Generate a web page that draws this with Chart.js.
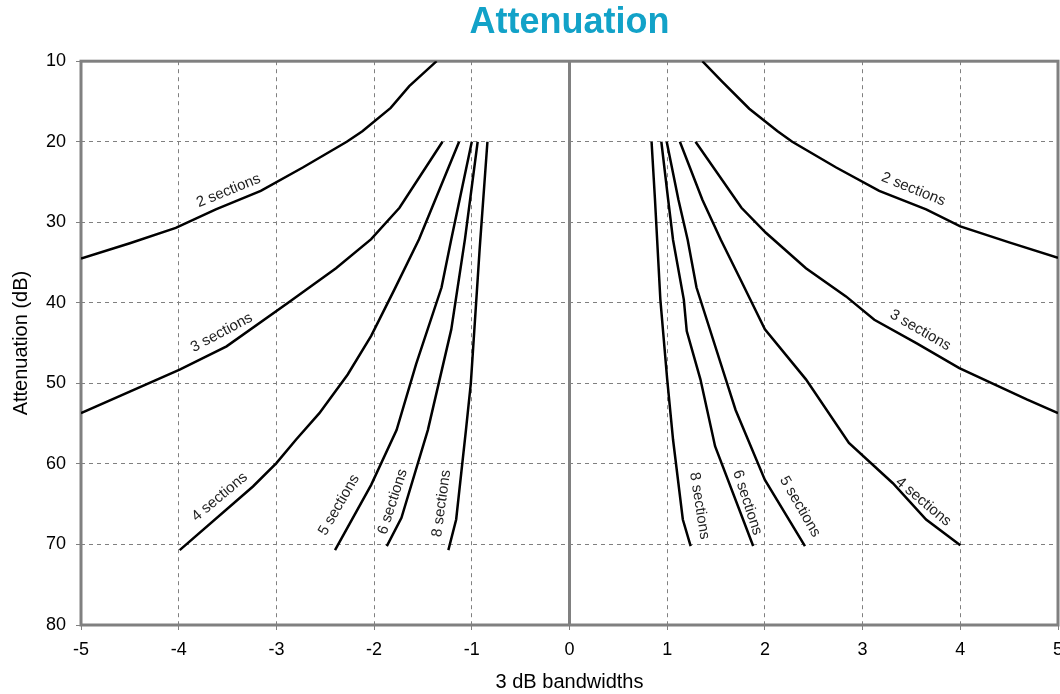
<!DOCTYPE html>
<html>
<head>
<meta charset="utf-8">
<script src="https://cdn.jsdelivr.net/npm/chart.js@4/dist/chart.umd.min.js"></script>
<style>
  html, body { margin: 0; padding: 0; background: #fff; }
  #wrap { position: relative; width: 1060px; height: 694px; }
</style>
</head>
<body>
<div id="wrap"><canvas id="chart"></canvas></div>
<script>
// attenuation (dB) vs 3 dB bandwidths
const xTicks = [-5, -4, -3, -2, -1, 0, 1, 2, 3, 4, 5];
const yTicks = [10, 20, 30, 40, 50, 60, 70, 80];

// right hand side
const bw2R = [1.36, 1.56, 1.84, 2.13, 2.28, 2.73, 3.17, 3.65, 4.0, 4.5, 5.0];
const att2R = [10, 12.5, 15.9, 18.7, 20, 23.2, 26.1, 28.4, 30.5, 32.5, 34.4];
const bw3R = [1.29, 1.76, 2.01, 2.42, 2.83, 3.12, 3.55, 3.99, 4.68, 5.0];
const att3R = [20, 28.2, 31.3, 35.7, 39.2, 42.1, 45, 48.1, 52, 53.7];
const bw4R = [1.13, 1.36, 1.55, 1.75, 2.0, 2.42, 2.86, 3.31, 3.65, 4.0];
const att4R = [20, 27.2, 32.2, 37.1, 43.3, 49.5, 57.4, 62.4, 66.9, 70.1];
const bw5R = [0.995, 1.115, 1.21, 1.30, 1.6, 1.70, 2.0, 2.41];
const att5R = [20, 27.2, 32.2, 38.1, 49.5, 53.3, 62, 70.2];
const bw6R = [0.94, 1.01, 1.06, 1.17, 1.2, 1.34, 1.49, 1.88];
const att6R = [20, 27.2, 32.2, 39.6, 43.5, 49.5, 57.8, 70.2];
const bw8R = [0.84, 0.875, 0.93, 1.0, 1.06, 1.16, 1.24];
const att8R = [20, 27.2, 39.6, 49.5, 57, 66.9, 70.2];

// left hand side
const bw2L = [-1.36, -1.64, -1.83, -2.12, -2.28, -2.73, -3.16, -3.62, -4.03, -4.5, -5.0];
const att2L = [10, 13.1, 15.8, 18.7, 20, 23.2, 26.1, 28.4, 30.7, 32.6, 34.5];
const bw3L = [-1.30, -1.74, -2.03, -2.39, -2.88, -3.51, -3.99, -5.0];
const att3L = [20, 28.2, 32.1, 35.7, 40.0, 45.4, 48.3, 53.7];
const bw4L = [-1.13, -1.54, -1.79, -2.03, -2.27, -2.56, -2.80, -3.0, -3.24, -3.99];
const att4L = [20, 32.1, 38.3, 44.1, 48.9, 53.7, 57, 59.9, 62.8, 70.7];
const bw5L = [-1.0, -1.21, -1.31, -1.57, -1.77, -2.03, -2.40];
const att5L = [20, 32.1, 38.1, 47.6, 55.8, 62.6, 70.7];
const bw6L = [-0.94, -1.07, -1.21, -1.45, -1.72, -1.87];
const att6L = [20, 32.1, 43.3, 55.8, 66.7, 70.2];
const bw8L = [-0.84, -0.92, -1.01, -1.06, -1.16, -1.24];
const att8L = [20, 33.4, 50, 55.8, 66.9, 70.7];

// curve labels: text, anchor (bandwidth, dB), angle in degrees
const labelText = ["2 sections", "3 sections", "4 sections", "5 sections", "6 sections", "8 sections",
                   "2 sections", "3 sections", "4 sections", "5 sections", "6 sections", "8 sections"];
const labelX = [3.52, 3.59, 3.62, 2.36, 1.82, 1.33, -3.49, -3.56, -3.58, -2.36, -1.81, -1.31];
const labelY = [25.9, 43.4, 64.7, 65.3, 64.8, 65.2, 26.1, 43.7, 64.1, 65.1, 64.7, 64.9];
const labelAngle = [22, 30, 40, 60, 72, 81, -22, -28, -40, -60, -72, -82];

const FONT = "'Liberation Sans', Arial, Helvetica, sans-serif";
const GRID = "#808080";

const curves = [
  [bw2R, att2R], [bw3R, att3R], [bw4R, att4R], [bw5R, att5R], [bw6R, att6R], [bw8R, att8R],
  [bw2L, att2L], [bw3L, att3L], [bw4L, att4L], [bw5L, att5L], [bw6L, att6L], [bw8L, att8L]
];

const datasets = curves.map(([xs, ys], i) => ({
  label: labelText[i],
  data: xs.map((x, j) => ({ x: x, y: ys[j] })),
  showLine: true,
  borderColor: "#000",
  borderWidth: 2.5,
  pointRadius: 0,
  tension: 0,
  fill: false
}));

// frame round the plot and the solid line at 0
const framePlugin = {
  id: "frame",
  beforeDatasetsDraw(chart) {
    const { ctx, chartArea: a, scales } = chart;
    const x0 = scales.x.getPixelForValue(0);
    ctx.save();
    ctx.strokeStyle = GRID;
    ctx.lineWidth = 3;
    ctx.strokeRect(a.left, a.top, a.right - a.left, a.bottom - a.top);
    ctx.beginPath();
    ctx.moveTo(x0, a.top);
    ctx.lineTo(x0, a.bottom);
    ctx.stroke();
    ctx.restore();
  }
};

// "n sections" text along the curves
const labelPlugin = {
  id: "curveLabels",
  afterDatasetsDraw(chart) {
    const { ctx, scales } = chart;
    ctx.save();
    ctx.font = "15px " + FONT;
    ctx.fillStyle = "#222";
    ctx.textAlign = "center";
    ctx.textBaseline = "middle";
    labelText.forEach((t, i) => {
      const px = scales.x.getPixelForValue(labelX[i]);
      const py = scales.y.getPixelForValue(labelY[i]);
      ctx.save();
      ctx.translate(px, py);
      ctx.rotate(labelAngle[i] * Math.PI / 180);
      ctx.fillText(t, 0, 0);
      ctx.restore();
    });
    ctx.restore();
  }
};

new Chart(document.getElementById("chart"), {
  type: "scatter",
  data: { datasets: datasets },
  options: {
    responsive: true,
    maintainAspectRatio: false,
    animation: false,
    layout: { padding: { left: 0, right: 2, top: 0, bottom: 0 } },
    plugins: {
      legend: { display: false },
      tooltip: { enabled: false },
      title: {
        display: true,
        fullSize: false,
        text: "Attenuation",
        color: "#12a2c8",
        font: { family: FONT, size: 36, weight: "bold" },
        padding: { top: 1, bottom: 17 }
      }
    },
    scales: {
      x: {
        type: "linear",
        min: xTicks[0],
        max: xTicks[xTicks.length - 1],
        afterBuildTicks: (s) => { s.ticks = xTicks.map(v => ({ value: v })); },
        afterFit: (s) => { s.height = 69; s.paddingLeft = 0; s.paddingRight = 0; },
        ticks: { color: "#000", font: { family: FONT, size: 18 }, padding: 9, maxRotation: 0 },
        grid: { color: GRID, lineWidth: 1, tickLength: 5, tickColor: GRID },
        border: { display: false, dash: [4, 4] },
        title: {
          display: true,
          text: "3 dB bandwidths",
          color: "#000",
          font: { family: FONT, size: 20 },
          padding: { top: 4, bottom: 0 }
        }
      },
      y: {
        type: "linear",
        reverse: true,
        min: yTicks[0],
        max: yTicks[yTicks.length - 1],
        afterBuildTicks: (s) => { s.ticks = yTicks.map(v => ({ value: v })); },
        afterFit: (s) => { s.width = 81; s.paddingTop = 0; s.paddingBottom = 0; },
        ticks: { color: "#000", font: { family: FONT, size: 18 }, padding: 10 },
        grid: { color: GRID, lineWidth: 1, tickLength: 5, tickColor: GRID },
        border: { display: false, dash: [4, 4] },
        title: {
          display: true,
          text: "Attenuation (dB)",
          color: "#000",
          font: { family: FONT, size: 20 },
          padding: { top: 9, bottom: 0 }
        }
      }
    }
  },
  plugins: [framePlugin, labelPlugin]
});
</script>
</body>
</html>
